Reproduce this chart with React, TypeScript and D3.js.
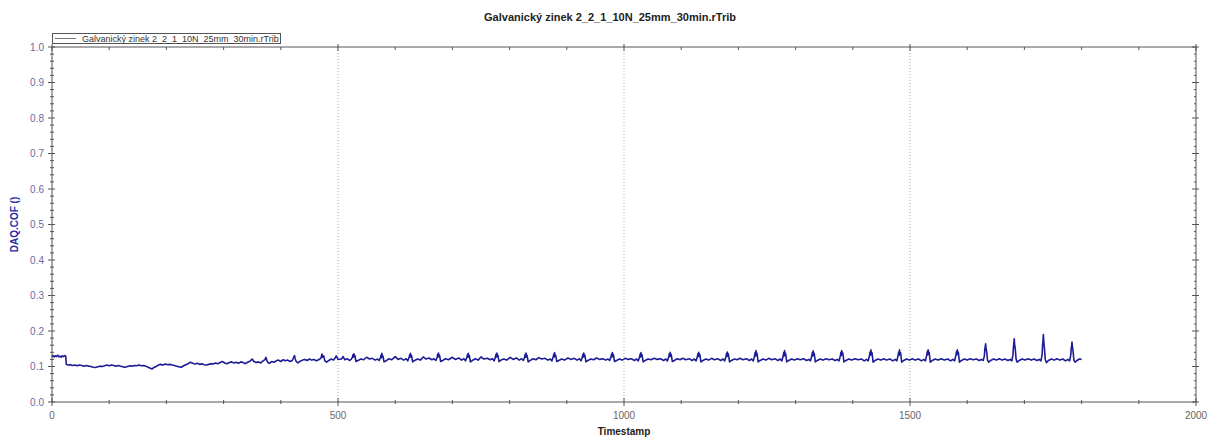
import * as d3 from 'd3';

// Chart texts
const title = 'Galvanický zinek 2_2_1_10N_25mm_30min.rTrib';
const seriesName = 'Galvanický zinek 2_2_1_10N_25mm_30min.rTrib';
const xLabel = 'Timestamp';
const yLabel = 'DAQ.COF ()';

// Axis ticks
const xTicks = [0, 500, 1000, 1500, 2000];
const yTicks = [0.0, 0.1, 0.2, 0.3, 0.4, 0.5, 0.6, 0.7, 0.8, 0.9, 1.0];
const gridX = [500, 1000, 1500];

// [timestamp, COF]: run-in, then settling
const startupPhase: [number, number][] = [
  [0, 0.128], [2, 0.131], [4, 0.127], [6, 0.130], [8, 0.128], [10, 0.132], [12, 0.127], [14, 0.129],
  [16, 0.126], [18, 0.130], [20, 0.128], [22, 0.131], [24, 0.129], [25, 0.106], [28, 0.104], [32, 0.105],
  [36, 0.103], [40, 0.104], [44, 0.102], [48, 0.104], [52, 0.103], [56, 0.101], [60, 0.103], [64, 0.101],
  [68, 0.100], [72, 0.098], [76, 0.097], [80, 0.099], [84, 0.101], [88, 0.100], [92, 0.102], [96, 0.104],
  [100, 0.102], [104, 0.104], [108, 0.103], [112, 0.101], [116, 0.103], [120, 0.101], [124, 0.099], [128, 0.098],
  [132, 0.100], [136, 0.102], [140, 0.101], [144, 0.103], [148, 0.102], [152, 0.104], [156, 0.102], [160, 0.103],
  [164, 0.101], [168, 0.098], [172, 0.095], [175, 0.093], [178, 0.097], [182, 0.100], [186, 0.104], [190, 0.106],
  [194, 0.104], [198, 0.107], [202, 0.105], [206, 0.106], [210, 0.104], [214, 0.103], [218, 0.101], [222, 0.099],
  [226, 0.098], [230, 0.102], [234, 0.105], [238, 0.108], [242, 0.112], [246, 0.109], [250, 0.107], [254, 0.109],
  [258, 0.106], [262, 0.108], [266, 0.105], [270, 0.104], [274, 0.106], [278, 0.108], [282, 0.107], [286, 0.110],
  [290, 0.108], [294, 0.111], [298, 0.114], [302, 0.110], [306, 0.108], [310, 0.111], [314, 0.113], [318, 0.110],
  [322, 0.112], [326, 0.109], [330, 0.113], [334, 0.111], [338, 0.108], [342, 0.112], [346, 0.115], [350, 0.121],
  [353, 0.114], [357, 0.111], [361, 0.113], [365, 0.110], [369, 0.116], [372, 0.119], [374, 0.126], [375, 0.120],
  [377, 0.112], [380, 0.109], [384, 0.114], [388, 0.112], [392, 0.116], [396, 0.118], [400, 0.114], [404, 0.119],
  [408, 0.116], [412, 0.118], [416, 0.114], [420, 0.117], [422, 0.124], [424, 0.131], [425, 0.122], [427, 0.114],
  [430, 0.110], [434, 0.115], [438, 0.118], [442, 0.120], [446, 0.117], [450, 0.121], [454, 0.118], [458, 0.120],
  [462, 0.116], [466, 0.119], [470, 0.123], [472, 0.135], [473, 0.126], [475, 0.130], [477, 0.116], [480, 0.112],
  [484, 0.117], [488, 0.121], [492, 0.118], [495, 0.124], [497, 0.130], [500, 0.120],
];

// steady stick-slip cycles, ~50 s period
const steadyPhase: [number, number][] = [
  [506, 0.121], [509, 0.128], [512, 0.119], [516, 0.122], [520, 0.117], [523, 0.120], [525.5, 0.127], [526.2, 0.133], [527, 0.126], [527.7, 0.136], [528.4, 0.128], [529.5, 0.131], [531.5, 0.114], [535, 0.117], [540, 0.121], [545, 0.119],
  [550, 0.126], [555, 0.121], [560, 0.123], [565, 0.118], [569, 0.121], [572, 0.117], [574.5, 0.126], [575.2, 0.132], [576, 0.125], [576.7, 0.137], [577.4, 0.127], [578.5, 0.130], [580.5, 0.113], [584, 0.116], [589, 0.122], [594, 0.119],
  [600, 0.128], [605, 0.120], [610, 0.123], [615, 0.118], [619, 0.122], [622, 0.116], [624.5, 0.127], [625.2, 0.133], [626, 0.126], [626.7, 0.137], [627.4, 0.128], [628.5, 0.131], [630.5, 0.113], [634, 0.117], [639, 0.121], [644, 0.118],
  [649, 0.127], [654, 0.121], [659, 0.124], [664, 0.119], [668, 0.122], [671, 0.117], [673.5, 0.126], [674.2, 0.134], [675, 0.127], [675.7, 0.138], [676.4, 0.128], [677.5, 0.132], [679.5, 0.114], [683, 0.117], [688, 0.122], [693, 0.119],
  [700, 0.126], [705, 0.120], [711, 0.124], [716, 0.118], [720, 0.122], [723, 0.116], [725.5, 0.127], [726.2, 0.133], [727, 0.126], [727.7, 0.137], [728.4, 0.127], [729.5, 0.131], [731.5, 0.113], [735, 0.117], [740, 0.122], [745, 0.118],
  [750, 0.127], [755, 0.121], [761, 0.123], [766, 0.119], [770, 0.122], [773, 0.116], [775.5, 0.128], [776.2, 0.134], [777, 0.127], [777.7, 0.138], [778.4, 0.128], [779.5, 0.132], [781.5, 0.114], [785, 0.118], [790, 0.121], [795, 0.118],
  [801, 0.126], [806, 0.120], [812, 0.124], [817, 0.118], [821, 0.122], [824, 0.117], [826.5, 0.127], [827.2, 0.134], [828, 0.126], [828.7, 0.138], [829.4, 0.128], [830.5, 0.131], [832.5, 0.113], [836, 0.117], [841, 0.122], [846, 0.119],
  [851, 0.125], [856, 0.121], [862, 0.123], [867, 0.118], [871, 0.121], [874, 0.116], [876.5, 0.128], [877.2, 0.135], [878, 0.127], [878.7, 0.139], [879.4, 0.129], [880.5, 0.132], [882.5, 0.114], [886, 0.117], [891, 0.121], [896, 0.118],
  [902, 0.124], [907, 0.120], [913, 0.123], [918, 0.118], [922, 0.122], [925, 0.116], [927.5, 0.128], [928.2, 0.134], [929, 0.127], [929.7, 0.138], [930.4, 0.128], [931.5, 0.132], [933.5, 0.113], [937, 0.117], [942, 0.121], [947, 0.119],
  [952, 0.124], [957, 0.120], [963, 0.122], [968, 0.118], [972, 0.121], [975, 0.117], [977.5, 0.128], [978.2, 0.135], [979, 0.127], [979.7, 0.139], [980.4, 0.129], [981.5, 0.133], [983.5, 0.114], [987, 0.117], [992, 0.121], [997, 0.118],
  [1002, 0.123], [1007, 0.120], [1013, 0.122], [1018, 0.117], [1022, 0.121], [1025, 0.116], [1027.5, 0.128], [1028.2, 0.135], [1029, 0.127], [1029.7, 0.139], [1030.4, 0.129], [1031.5, 0.133], [1033.5, 0.113], [1037, 0.117], [1042, 0.121], [1047, 0.119],
  [1053, 0.123], [1058, 0.120], [1064, 0.122], [1069, 0.117], [1073, 0.121], [1076, 0.116], [1078.5, 0.129], [1079.2, 0.136], [1080, 0.128], [1080.7, 0.140], [1081.4, 0.129], [1082.5, 0.134], [1084.5, 0.114], [1088, 0.117], [1093, 0.122], [1098, 0.119],
  [1103, 0.123], [1108, 0.119], [1114, 0.122], [1119, 0.117], [1123, 0.121], [1126, 0.116], [1128.5, 0.129], [1129.2, 0.136], [1130, 0.128], [1130.7, 0.140], [1131.4, 0.130], [1132.5, 0.134], [1134.5, 0.113], [1138, 0.117], [1143, 0.121], [1148, 0.118],
  [1153, 0.123], [1158, 0.119], [1164, 0.122], [1169, 0.117], [1173, 0.121], [1176, 0.116], [1178.5, 0.129], [1179.2, 0.137], [1180, 0.128], [1180.7, 0.141], [1181.4, 0.130], [1182.5, 0.135], [1184.5, 0.113], [1188, 0.117], [1193, 0.121], [1198, 0.119],
  [1203, 0.123], [1208, 0.119], [1214, 0.122], [1219, 0.117], [1223, 0.121], [1226, 0.116], [1228.5, 0.131], [1229.2, 0.139], [1230, 0.130], [1230.7, 0.145], [1231.4, 0.132], [1232.5, 0.137], [1234.5, 0.113], [1238, 0.117], [1243, 0.121], [1248, 0.118],
  [1253, 0.123], [1258, 0.119], [1264, 0.122], [1269, 0.117], [1273, 0.121], [1276, 0.116], [1278.5, 0.131], [1279.2, 0.139], [1280, 0.130], [1280.7, 0.145], [1281.4, 0.132], [1282.5, 0.137], [1284.5, 0.113], [1288, 0.117], [1293, 0.121], [1298, 0.118],
  [1303, 0.122], [1308, 0.119], [1314, 0.122], [1319, 0.117], [1323, 0.120], [1326, 0.116], [1328.5, 0.131], [1329.2, 0.139], [1330, 0.130], [1330.7, 0.144], [1331.4, 0.132], [1332.5, 0.137], [1334.5, 0.113], [1338, 0.117], [1343, 0.121], [1348, 0.118],
  [1353, 0.122], [1358, 0.119], [1364, 0.121], [1369, 0.117], [1373, 0.120], [1376, 0.116], [1378.5, 0.132], [1379.2, 0.140], [1380, 0.131], [1380.7, 0.145], [1381.4, 0.133], [1382.5, 0.138], [1384.5, 0.113], [1388, 0.117], [1393, 0.121], [1398, 0.118],
  [1404, 0.122], [1409, 0.119], [1415, 0.121], [1420, 0.116], [1424, 0.120], [1427, 0.116], [1429.5, 0.133], [1430.2, 0.141], [1431, 0.132], [1431.7, 0.147], [1432.4, 0.134], [1433.5, 0.139], [1435.5, 0.112], [1439, 0.117], [1444, 0.121], [1449, 0.118],
  [1454, 0.122], [1459, 0.118], [1465, 0.121], [1470, 0.116], [1474, 0.120], [1477, 0.116], [1479.5, 0.133], [1480.2, 0.141], [1481, 0.132], [1481.7, 0.147], [1482.4, 0.134], [1483.5, 0.139], [1485.5, 0.112], [1489, 0.117], [1494, 0.121], [1499, 0.118],
];

// last cycles, spikes getting taller
const lateSpikes: [number, number][] = [
  [1504, 0.122], [1509, 0.118], [1515, 0.121], [1520, 0.116], [1524, 0.120], [1527, 0.116], [1529.5, 0.134], [1530.2, 0.142], [1531, 0.133], [1531.7, 0.147], [1532.4, 0.135], [1533.5, 0.140], [1535.5, 0.112], [1539, 0.117], [1544, 0.121], [1549, 0.118],
  [1555, 0.122], [1560, 0.118], [1566, 0.121], [1571, 0.116], [1575, 0.120], [1578, 0.116], [1580.5, 0.134], [1581.2, 0.142], [1582, 0.133], [1582.7, 0.147], [1583.4, 0.135], [1584.5, 0.140], [1586.5, 0.112], [1590, 0.117], [1595, 0.121], [1600, 0.118],
  [1605, 0.122], [1610, 0.119], [1616, 0.121], [1621, 0.117], [1625, 0.120], [1628, 0.117], [1630, 0.130], [1630.8, 0.148], [1631.5, 0.155], [1632.2, 0.164], [1633, 0.150], [1634, 0.142], [1635.5, 0.118], [1637.5, 0.112], [1641, 0.117], [1646, 0.121], [1651, 0.118],
  [1656, 0.122], [1661, 0.118], [1666, 0.121], [1671, 0.117], [1675, 0.120], [1678, 0.116], [1680, 0.132], [1680.8, 0.155], [1681.5, 0.165], [1682.2, 0.178], [1683, 0.160], [1684, 0.150], [1685.5, 0.120], [1687.5, 0.112], [1691, 0.117], [1696, 0.121], [1701, 0.118],
  [1707, 0.122], [1712, 0.118], [1717, 0.121], [1722, 0.117], [1726, 0.120], [1729, 0.116], [1731, 0.135], [1731.8, 0.160], [1732.5, 0.172], [1733.2, 0.190], [1734, 0.168], [1735, 0.152], [1736.5, 0.120], [1738.5, 0.111], [1742, 0.117], [1747, 0.121], [1752, 0.118],
  [1757, 0.122], [1762, 0.118], [1767, 0.121], [1772, 0.116], [1776, 0.120], [1779, 0.116], [1781, 0.132], [1781.8, 0.150], [1782.5, 0.158], [1783.2, 0.169], [1784, 0.155], [1785, 0.145], [1786.5, 0.118], [1788.5, 0.112], [1792, 0.117], [1796, 0.121], [1800, 0.120],
];

const W = 1208;
const H = 437;
const margin = { top: 47, right: 12, bottom: 35, left: 52 };
const font = '"Liberation Sans", Arial, sans-serif';

export default function App() {
  const x = d3.scaleLinear().domain([0, 2000]).range([margin.left, W - margin.right]);
  const y = d3.scaleLinear().domain([0, 1]).range([H - margin.bottom, margin.top]);
  const [x0, x1] = x.range();
  const [y0, y1] = y.range();

  const data = [...startupPhase, ...steadyPhase, ...lateSpikes];
  const line = d3.line<[number, number]>().x(d => x(d[0])).y(d => y(d[1]));

  const xMinor = d3.range(0, 2001, 100).filter(v => v % 500 !== 0);
  const yMinor = d3.range(0, 51).map(i => i * 0.02).filter(v => Math.abs(v * 10 - Math.round(v * 10)) > 1e-6);

  const axisColor = '#555';

  return (
    <svg width={W} height={H} style={{ position: 'absolute', left: 0, top: 0, background: '#fff' }} fontFamily={font}>
      <rect width={W} height={H} fill="#fff" />
      <text x={610} y={21} textAnchor="middle" fontSize={11} fontWeight="bold" fill="#222">{title}</text>

      {/* grid */}
      {gridX.map(v => (
        <line key={v} x1={x(v)} x2={x(v)} y1={y1} y2={y0} stroke="#aaa" strokeDasharray="1,2" />
      ))}

      {/* frame */}
      <rect x={x0} y={y1} width={x1 - x0} height={y0 - y1} fill="none" stroke={axisColor} strokeWidth={1} />

      {/* x ticks bottom & top */}
      {xTicks.map(v => (
        <g key={v}>
          <line x1={x(v)} x2={x(v)} y1={y0 - 4} y2={y0 + 4} stroke={axisColor} />
          <line x1={x(v)} x2={x(v)} y1={y1 - 3} y2={y1 + 4} stroke={axisColor} />
          <text x={x(v)} y={419} textAnchor="middle" fontSize={10} fill="#666">{v}</text>
        </g>
      ))}
      {xMinor.map(v => (
        <g key={v}>
          <line x1={x(v)} x2={x(v)} y1={y0 - 2} y2={y0 + 2} stroke={axisColor} />
          <line x1={x(v)} x2={x(v)} y1={y1} y2={y1 + 3} stroke={axisColor} />
        </g>
      ))}

      {/* y ticks left & right */}
      {yTicks.map(v => (
        <g key={v}>
          <line x1={x0 - 4} x2={x0 + 3} y1={y(v)} y2={y(v)} stroke={axisColor} />
          <line x1={x1 - 4} x2={x1 + 3} y1={y(v)} y2={y(v)} stroke={axisColor} />
          <text x={44} y={y(v) + 3.5} textAnchor="end" fontSize={10} fill="#6a6a9e">{v.toFixed(1)}</text>
        </g>
      ))}
      {yMinor.map(v => (
        <g key={v}>
          <line x1={x0 - 2} x2={x0 + 2} y1={y(v)} y2={y(v)} stroke={axisColor} />
          <line x1={x1 - 2} x2={x1} y1={y(v)} y2={y(v)} stroke={axisColor} />
        </g>
      ))}

      <text x={624} y={435} textAnchor="middle" fontSize={10} fontWeight="bold" fill="#222">{xLabel}</text>
      <text transform={`translate(18,${(y0 + y1) / 2}) rotate(-90)`} textAnchor="middle" fontSize={10} fontWeight="bold" fill="#2b2ba6">{yLabel}</text>

      {/* series */}
      <path d={line(data) ?? ''} fill="none" stroke="#1c1c96" strokeWidth={1.6} strokeLinejoin="round" />

      {/* legend */}
      <rect x={52.5} y={33.5} width={228} height={10} fill="#fff" stroke={axisColor} />
      <line x1={55} x2={76} y1={38.5} y2={38.5} stroke="#777" />
      <text x={82} y={41.8} fontSize={9} fill="#333">{seriesName}</text>
    </svg>
  );
}
